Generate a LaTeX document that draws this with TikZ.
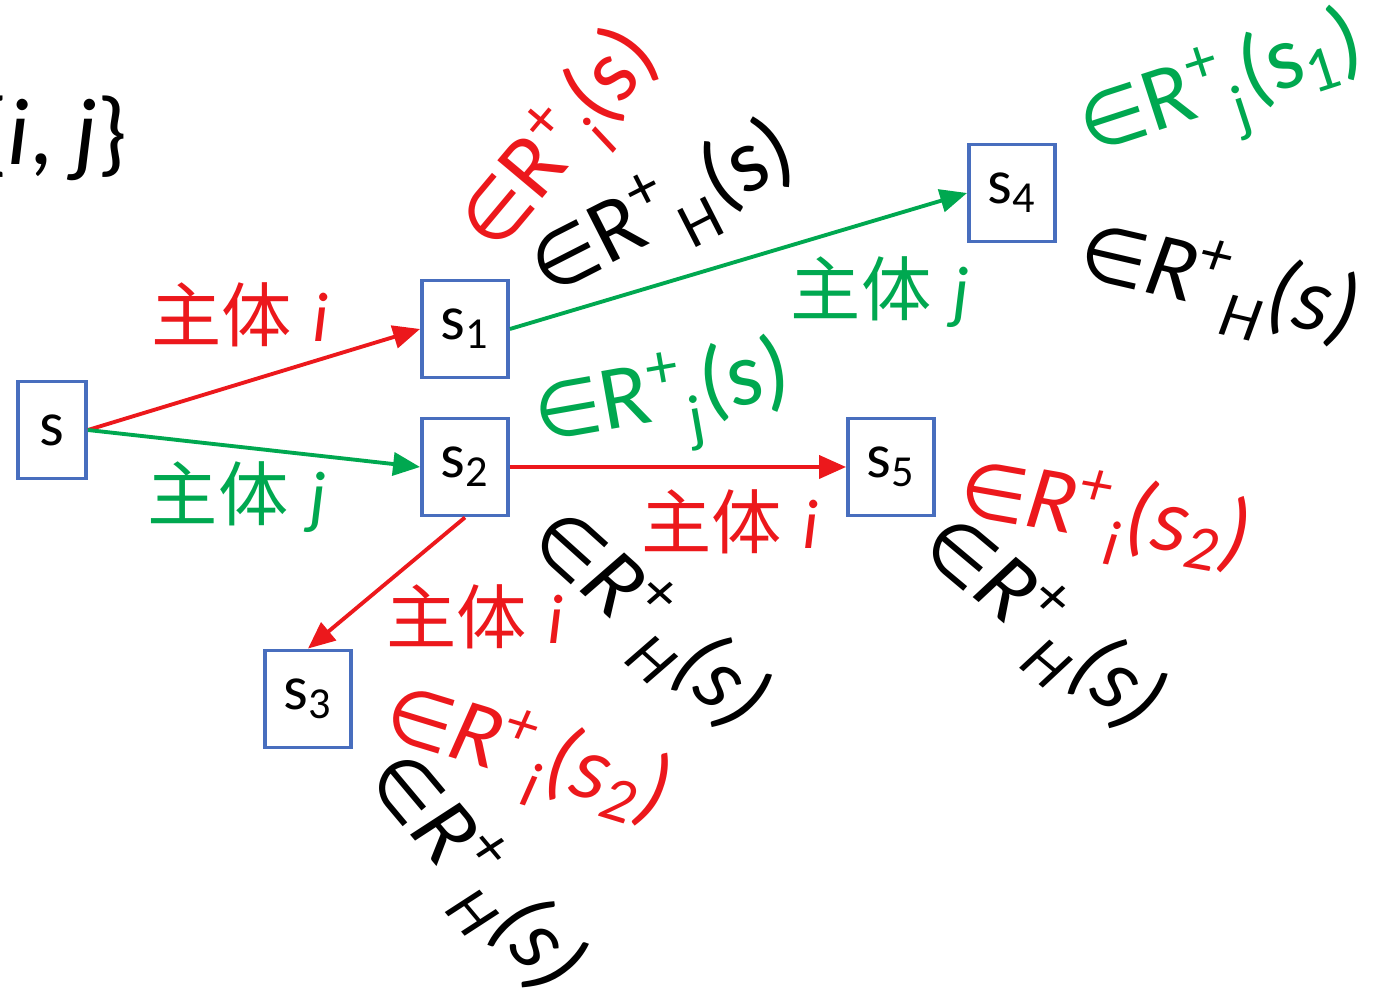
\documentclass[tikz,border=0pt]{standalone}
\usepackage{fontspec}
\usepackage{graphicx}
\setmainfont{Carlito}
\newfontfamily\cjk{Noto Sans CJK SC}
\newfontfamily\symfont{DejaVu Sans}
\usetikzlibrary{arrows.meta}

\definecolor{myred}{RGB}{236,24,28}
\definecolor{mygreen}{RGB}{0,168,80}
\definecolor{boxblue}{RGB}{72,110,190}

% one set label: \inR{sub}{arg}
\newcommand{\inR}[2]{\scalebox{0.85}{\symfont\upshape ∈}R\textsuperscript{+}\raisebox{-0.25ex}{\textsubscript{#1}}(#2)}
% agent label
\newcommand{\agent}[1]{{\cjk 主体}\hspace{0.3em}\textit{#1}}

\begin{document}
\begin{tikzpicture}[
    state/.style={draw=boxblue, line width=1.1pt, fill=white, inner sep=0pt,
      minimum width=0.86cm, minimum height=0.97cm, font=\fontsize{18}{20}\selectfont},
    arr/.style={line width=1.1pt, -{Triangle[length=2.7mm,width=2.3mm]}},
    lab/.style={inner sep=0pt, font=\fontsize{20}{22}\selectfont},
    setlab/.style={inner sep=0pt, font=\fontsize{26}{28}\selectfont},
    setit/.style={setlab, font=\fontsize{26}{28}\selectfont\itshape}
  ]

		\useasboundingbox (0,0) rectangle (13.75,9.96);

		% states
		\node[state, minimum width=0.68cm] (s) at (0.52,5.66) {s};
		\node[state] (s1) at (4.65,6.67) {s\textsubscript{1}};
		\node[state] (s2) at (4.65,5.29) {s\textsubscript{2}};
		\node[state] (s3) at (3.08,2.97) {s\textsubscript{3}};
		\node[state] (s4) at (10.12,8.03) {s\textsubscript{4}};
		\node[state] (s5) at (8.91,5.29) {s\textsubscript{5}};

		% agent set (cut at the left edge)
		\node[lab, anchor=east, font=\fontsize{27}{29}\selectfont] (agents) at (1.28,8.58) {\{\textit{i}, \textit{j}\}};

		% transitions
		\draw[arr, myred] (s.east) -- (s1.west);
		\draw[arr, mygreen] (s.east) -- (s2.west);
		\draw[arr, mygreen] (s1.east) -- (s4.west);
		\draw[arr, myred] (s2.east) -- (s5.west);
		\draw[arr, myred] (s2.south) -- (s3.north);

		% agent labels
		\node[lab, myred] (a1) at (2.40,6.81) {\agent{i}};
		\node[lab, mygreen] (a2) at (2.37,4.99) {\agent{j}};
		\node[lab, mygreen] (a3) at (8.80,7.04) {\agent{j}};
		\node[lab, myred] (a4) at (7.30,4.74) {\agent{i}};
		\node[lab, myred] (a5) at (4.75,3.79) {\agent{i}};

		% reachable sets
		\node[setlab, myred, rotate=50] (r1) at (5.62,8.53) {\inR{\textit{i}}{s}};
		\node[setlab, rotate=27] (r2) at (6.64,7.83) {\inR{H}{s}};
		\node[setlab, mygreen, rotate=18] (r3) at (12.24,9.03) {\inR{j}{s\textsubscript{1}}};
		\node[setit, rotate=-13] (r4) at (12.18,7.09) {\inR{H}{s}};
		\node[setlab, mygreen, rotate=10] (r5) at (6.64,5.92) {\inR{j}{s}};
		\node[setit, rotate=-42] (r6) at (6.46,3.74) {\inR{H}{s}};
		\node[setit, myred, rotate=-10] (r7) at (11.04,4.78) {\inR{i}{s\textsubscript{2}}};
		\node[setit, rotate=-40] (r8) at (10.40,3.70) {\inR{H}{s}};
		\node[setit, myred, rotate=-17] (r9) at (5.26,2.38) {\inR{i}{s\textsubscript{2}}};
		\node[setit, rotate=-50] (r10) at (4.72,1.22) {\inR{H}{s}};

	\end{tikzpicture}
\end{document}
